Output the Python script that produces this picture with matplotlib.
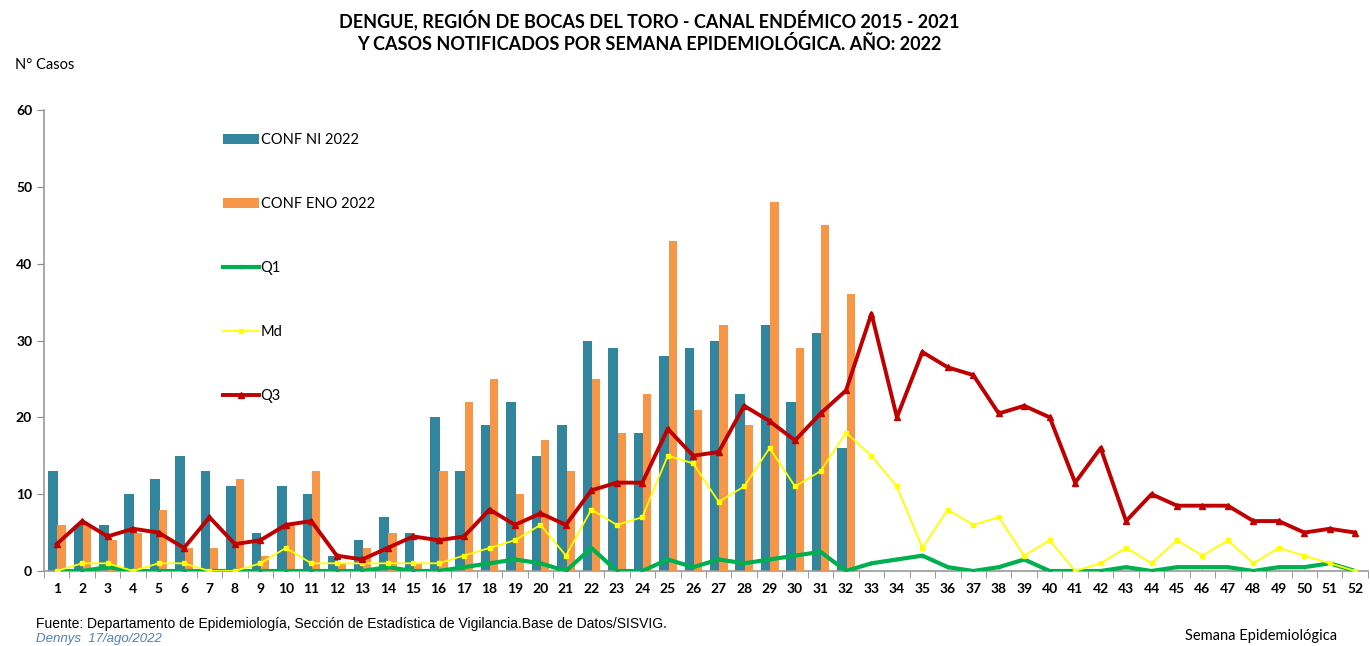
import matplotlib.pyplot as plt
import numpy as np

# semanas epidemiologicas
semanas = np.arange(1, 53)

# casos 2022 (hasta la semana 32)
conf_ni = [13, 6, 6, 10, 12, 15, 13, 11, 5, 11, 10, 2, 4, 7, 5, 20, 13, 19, 22, 15,
           19, 30, 29, 18, 28, 29, 30, 23, 32, 22, 31, 16]
conf_eno = [6, 6, 4, 5, 8, 3, 3, 12, 2, 6, 13, 1, 3, 5, 1, 13, 22, 25, 10, 17,
            13, 25, 18, 23, 43, 21, 32, 19, 48, 29, 45, 36]

# canal endemico 2015-2021
q1 = [0, 0, 0.5, 0, 0, 0, 0, 0, 0, 0, 0, 0, 0, 0.5, 0, 0, 0.5, 1, 1.5, 1,
      0, 3, 0, 0, 1.5, 0.5, 1.5, 1, 1.5, 2, 2.5, 0, 1, 1.5, 2, 0.5, 0, 0.5, 1.5, 0,
      0, 0, 0.5, 0, 0.5, 0.5, 0.5, 0, 0.5, 0.5, 1, 0]
md = [0, 1, 1, 0, 1, 1, 0, 0, 1, 3, 1, 1, 1, 1, 1, 1, 2, 3, 4, 6,
      2, 8, 6, 7, 15, 14, 9, 11, 16, 11, 13, 18, 15, 11, 3, 8, 6, 7, 2, 4,
      0, 1, 3, 1, 4, 2, 4, 1, 3, 2, 1, 0]
q3 = [3.5, 6.5, 4.5, 5.5, 5, 3, 7, 3.5, 4, 6, 6.5, 2, 1.5, 3, 4.5, 4, 4.5, 8, 6, 7.5,
      6, 10.5, 11.5, 11.5, 18.5, 15, 15.5, 21.5, 19.5, 17, 20.5, 23.5, 33.5, 20, 28.5, 26.5, 25.5, 20.5, 21.5, 20,
      11.5, 16, 6.5, 10, 8.5, 8.5, 8.5, 6.5, 6.5, 5, 5.5, 5]

fig = plt.figure(figsize=(13.7, 6.46), dpi=100)
ax = fig.add_axes([0.0321, 0.1161, 0.9664, 0.7136])

sem_casos = semanas[:len(conf_ni)]
b1 = ax.bar(sem_casos - 0.15, conf_ni, width=0.38, color='#31859C', label='CONF NI 2022', zorder=2)
b2 = ax.bar(sem_casos + 0.19, conf_eno, width=0.32, color='#F79646', label='CONF ENO 2022', zorder=3)
l1, = ax.plot(semanas, q1, color='#00B050', lw=3, marker='+', ms=3, label='Q1', zorder=4)
l2, = ax.plot(semanas, md, color='#FFFF00', lw=1.3, marker='s', ms=3.5, label='Md', zorder=5)
l3, = ax.plot(semanas, q3, color='#C00000', lw=2.8, marker='^', ms=5, label='Q3', zorder=6)

ax.set_xlim(0.5, 52.5)
ax.set_ylim(0, 60)
ax.set_yticks(range(0, 61, 10))
ax.set_xticks(semanas)
ax.set_xticks(np.arange(0.5, 53, 1), minor=True)
ax.tick_params(axis='x', which='major', length=0, pad=9)
ax.tick_params(axis='x', which='minor', length=5, color='#888888', direction='out')
ax.tick_params(axis='y', length=5, color='#888888', direction='out')
for lab in ax.get_xticklabels() + ax.get_yticklabels():
    lab.set_fontweight('bold')
    lab.set_fontsize(10)
    lab.set_family('Lato')
for s in ['top', 'right']:
    ax.spines[s].set_visible(False)
for s in ['left', 'bottom']:
    ax.spines[s].set_color('#999999')
    ax.spines[s].set_linewidth(1.2)

ax.legend([b1, b2, l1, l2, l3], ['CONF NI 2022', 'CONF ENO 2022', 'Q1', 'Md', 'Q3'],
          loc='upper left', bbox_to_anchor=(0.125, 0.978), frameon=False,
          labelspacing=3.42, handlelength=2.5, handletextpad=0.1,
          prop={'family': 'Lato', 'size': 10.5})

fig.text(0.474, 0.985, 'DENGUE, REGIÓN DE BOCAS DEL TORO - CANAL ENDÉMICO 2015 - 2021\n'
         'Y CASOS NOTIFICADOS POR SEMANA EPIDEMIOLÓGICA. AÑO: 2022',
         ha='center', va='top', fontweight='bold', fontsize=13, family='Lato', linespacing=1.3)
fig.text(0.011, 0.9, 'N° Casos', fontsize=10.5, family='Lato', va='center')
fig.text(0.976, 0.015, 'Semana Epidemiológica', fontsize=10.5, family='Lato', ha='right', va='center')
fig.text(0.026, 0.034, 'Fuente: Departamento de Epidemiología, Sección de Estadística de Vigilancia.Base de Datos/SISVIG.',
         fontsize=10, family='Liberation Sans', va='center')
fig.text(0.026, 0.001, 'Dennys  17/ago/2022', fontsize=9.5, family='Liberation Sans',
         style='italic', color='#4F81BD', va='bottom')

fig.savefig('out.png', dpi=100)
